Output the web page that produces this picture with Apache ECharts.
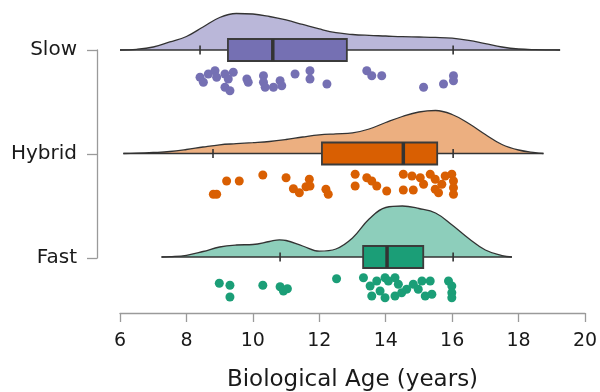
<!DOCTYPE html>
<html>
<head>
<meta charset="utf-8">
<script src="https://cdn.jsdelivr.net/npm/echarts@6/dist/echarts.min.js"></script>
<style>
  html, body { margin: 0; padding: 0; background: #fff; }
  #chart { width: 600px; height: 392px; }
</style>
</head>
<body>
<div id="chart"></div>
<script>
// groups, bottom row first
const groups = ['Fast', 'Hybrid', 'Slow'];
const colors = ['#1b9e77', '#d95f02', '#7570b3'];
const fills = ['#8dcebb', '#ecaf80', '#bab7d9'];

// density curves (age, relative density)
const slowAge = [6.0, 6.5, 7.0, 7.5, 8.0, 8.5, 9.0, 9.5, 10.0, 10.5, 11.0, 11.5, 12.0, 12.5, 13.0, 13.5, 14.0, 14.5, 15.0, 15.5, 16.0, 16.5, 17.0, 17.5, 18.0, 18.5, 19.0, 19.25];
const slowDensity = [0, 0.7, 3, 8, 13.5, 23, 32.5, 36.5, 36, 33.5, 30, 25.5, 21, 17.3, 15.5, 14.6, 14, 13.3, 13, 12.6, 11.8, 9.6, 6.3, 3, 1, 0.3, 0.1, 0];
const hybridAge = [6.1, 6.5, 7.0, 7.5, 8.0, 8.5, 9.0, 9.5, 10.0, 10.5, 11.0, 11.5, 12.0, 12.5, 13.0, 13.5, 14.0, 14.5, 15.0, 15.5, 16.0, 16.5, 17.0, 17.5, 18.0, 18.5, 18.75];
const hybridDensity = [0, 0.3, 1, 2, 4, 6.5, 8.7, 9.8, 10.8, 12, 14, 16.5, 18.7, 19.7, 20.6, 24.5, 31, 37, 41.5, 43, 39, 30, 19, 9, 3.5, 0.8, 0];
const fastAge = [7.25, 7.5, 8.0, 8.5, 9.0, 9.5, 10.0, 10.5, 10.8, 11.0, 11.5, 12.0, 12.5, 13.0, 13.5, 14.0, 14.5, 15.0, 15.5, 16.0, 16.5, 17.0, 17.5, 17.8];
const fastDensity = [0, 0.3, 1.7, 5.5, 10, 12, 12.5, 15.5, 17.2, 16.5, 11, 5.8, 8, 19, 38, 49.5, 51, 48.5, 44, 32, 18.5, 7, 1.5, 0];

// box stats: lower whisker, Q1, median, Q3, upper whisker
const slowBox = [8.41, 9.25, 10.6, 12.83, 16.03];
const hybridBox = [8.8, 12.08, 14.53, 15.55, 16.03];
const fastBox = [10.82, 13.32, 14.04, 15.13, 16.03];

// raw points: age and vertical jitter below the row
const slowPoints = [8.41, 8.51, 8.66, 8.86, 8.91, 9.16, 9.26, 9.41, 9.16, 9.31, 9.82, 9.86, 10.32, 10.32, 10.37, 10.62, 10.82, 10.87, 11.27, 11.72, 11.72, 12.23, 13.43, 13.58, 13.88, 15.14, 15.74, 16.04, 16.04];
const slowJitter = [27.3, 32.3, 24, 20.7, 27.3, 24, 29, 22.3, 37.3, 40.7, 29, 32.3, 25.7, 32.3, 37.3, 37.3, 30.7, 35.7, 24, 20.7, 29, 34, 20.7, 25.7, 25.7, 37.3, 34, 25.7, 30.7];
const hybridPoints = [8.81, 8.91, 9.21, 9.59, 10.30, 11.0, 11.22, 11.40, 11.60, 11.70, 11.72, 12.20, 12.27, 13.08, 13.08, 13.43, 13.58, 13.73, 14.03, 14.53, 14.53, 14.79, 14.83, 15.04, 15.14, 15.34, 15.49, 15.49, 15.59, 15.69, 15.79, 15.99, 16.04, 16.04, 16.04];
const hybridJitter = [40.8, 40.8, 27.5, 27.5, 21.5, 24.2, 35.2, 39.2, 33.2, 25.8, 32.5, 35.8, 40.8, 20.8, 32.5, 24.2, 27.5, 32.5, 37.5, 20.8, 36.5, 22.5, 36.5, 24.2, 30.8, 20.8, 25.8, 35.8, 39.2, 30.8, 22.5, 20.8, 27.5, 34.2, 40.8];
const fastPoints = [8.99, 9.31, 9.31, 10.30, 10.82, 10.92, 11.04, 12.52, 13.33, 13.53, 13.58, 13.73, 13.83, 13.98, 14.08, 13.98, 14.28, 14.38, 14.28, 14.48, 14.63, 14.83, 14.98, 15.09, 15.19, 15.34, 15.39, 15.89, 15.99, 15.99, 15.99];
const fastJitter = [26.3, 28.3, 40, 28.3, 29.7, 34, 31.7, 21.7, 20.7, 29, 39, 24, 34, 20.7, 24, 40.7, 20.7, 27.3, 39, 35.7, 32.3, 27.3, 32.3, 24, 39, 24, 37.3, 24, 29, 35.7, 40.7];

const xTicks = [6, 8, 10, 12, 14, 16, 18, 20];

const ages = [fastAge, hybridAge, slowAge];
const densities = [fastDensity, hybridDensity, slowDensity];
const boxes = [fastBox, hybridBox, slowBox];
const points = [fastPoints, hybridPoints, slowPoints];
const jitters = [fastJitter, hybridJitter, slowJitter];

const unit = 1 / 103.5;   // density / jitter units -> row units
const font = 'DejaVu Sans';
const textColor = '#1a1a1a';
const axisGray = '#9a9a9a';

const chart = echarts.init(document.getElementById('chart'), null, { renderer: 'canvas' });

const series = [];
groups.forEach((g, i) => {
  // half violin
  series.push({
    name: g + ' density',
    type: 'line',
    smooth: 0.4,
    showSymbol: false,
    silent: true,
    z: 1,
    lineStyle: { color: '#333', width: 1.3 },
    areaStyle: { color: fills[i], opacity: 1, origin: i },
    data: ages[i].map((a, k) => [a, i + densities[i][k] * unit])
  });
  // baseline under the density
  series.push({
    type: 'line',
    showSymbol: false,
    silent: true,
    z: 2,
    lineStyle: { color: '#333', width: 1.3 },
    data: [[ages[i][0], i], [ages[i][ages[i].length - 1], i]]
  });
  // jittered points
  series.push({
    name: g,
    type: 'scatter',
    symbolSize: 9,
    z: 4,
    itemStyle: { color: colors[i], opacity: 1 },
    data: points[i].map((a, k) => [a, i - jitters[i][k] * unit])
  });
});

// box plots
series.push({
  type: 'custom',
  z: 3,
  silent: true,
  encode: { x: [1, 2, 3, 4, 5], y: 0 },
  data: boxes.map((b, i) => [i].concat(b)),
  renderItem: function (params, api) {
    const row = api.value(0);
    const lo = api.coord([api.value(1), row]);
    const q1 = api.coord([api.value(2), row]);
    const md = api.coord([api.value(3), row]);
    const q3 = api.coord([api.value(4), row]);
    const hi = api.coord([api.value(5), row]);
    const h = 22;
    const cap = 9;
    return {
      type: 'group',
      children: [
        { type: 'rect', shape: { x: q1[0], y: q1[1] - h / 2, width: q3[0] - q1[0], height: h },
          style: { fill: colors[row], stroke: '#3b3b3b', lineWidth: 1.8 } },
        { type: 'line', shape: { x1: md[0], y1: md[1] - h / 2, x2: md[0], y2: md[1] + h / 2 },
          style: { stroke: '#333', lineWidth: 3.5 } },
        { type: 'line', shape: { x1: lo[0], y1: lo[1] - cap / 2, x2: lo[0], y2: lo[1] + cap / 2 },
          style: { stroke: '#333', lineWidth: 1.6 } },
        { type: 'line', shape: { x1: hi[0], y1: hi[1] - cap / 2, x2: hi[0], y2: hi[1] + cap / 2 },
          style: { stroke: '#333', lineWidth: 1.6 } }
      ]
    };
  }
});

const option = {
  animation: false,
  backgroundColor: '#fff',
  grid: [
    { left: 120, right: 15, top: 0, bottom: 79, outerBoundsMode: 'none' },
    { left: 97, width: 1, top: 50, height: 208, outerBoundsMode: 'none' }
  ],
  xAxis: [
    {
      type: 'value', gridIndex: 0, min: 6, max: 20, interval: 2,
      name: 'Biological Age (years)', nameLocation: 'middle', nameGap: 56,
      nameTextStyle: { fontFamily: font, fontSize: 23, color: textColor },
      axisLine: { show: true, onZero: false, lineStyle: { color: axisGray, width: 1.3 } },
      axisTick: { show: true, length: 9, lineStyle: { color: axisGray, width: 1.3 } },
      axisLabel: { fontFamily: font, fontSize: 19, color: textColor, margin: 19,
        formatter: v => xTicks.includes(v) ? String(v) : '' },
      splitLine: { show: false }
    },
    { type: 'value', gridIndex: 1, show: false }
  ],
  yAxis: [
    { type: 'value', gridIndex: 0, min: -0.541, max: 2.483, show: false },
    {
      type: 'category', gridIndex: 1, data: groups, boundaryGap: false,
      axisLine: { show: true, lineStyle: { color: axisGray, width: 1.3 } },
      axisTick: { show: true, length: 10, lineStyle: { color: axisGray, width: 1.3 } },
      axisLabel: { fontFamily: font, fontSize: 20, color: textColor, margin: 20 }
    }
  ],
  series: series
};

chart.setOption(option);
window.addEventListener('resize', () => chart.resize());
</script>
</body>
</html>
